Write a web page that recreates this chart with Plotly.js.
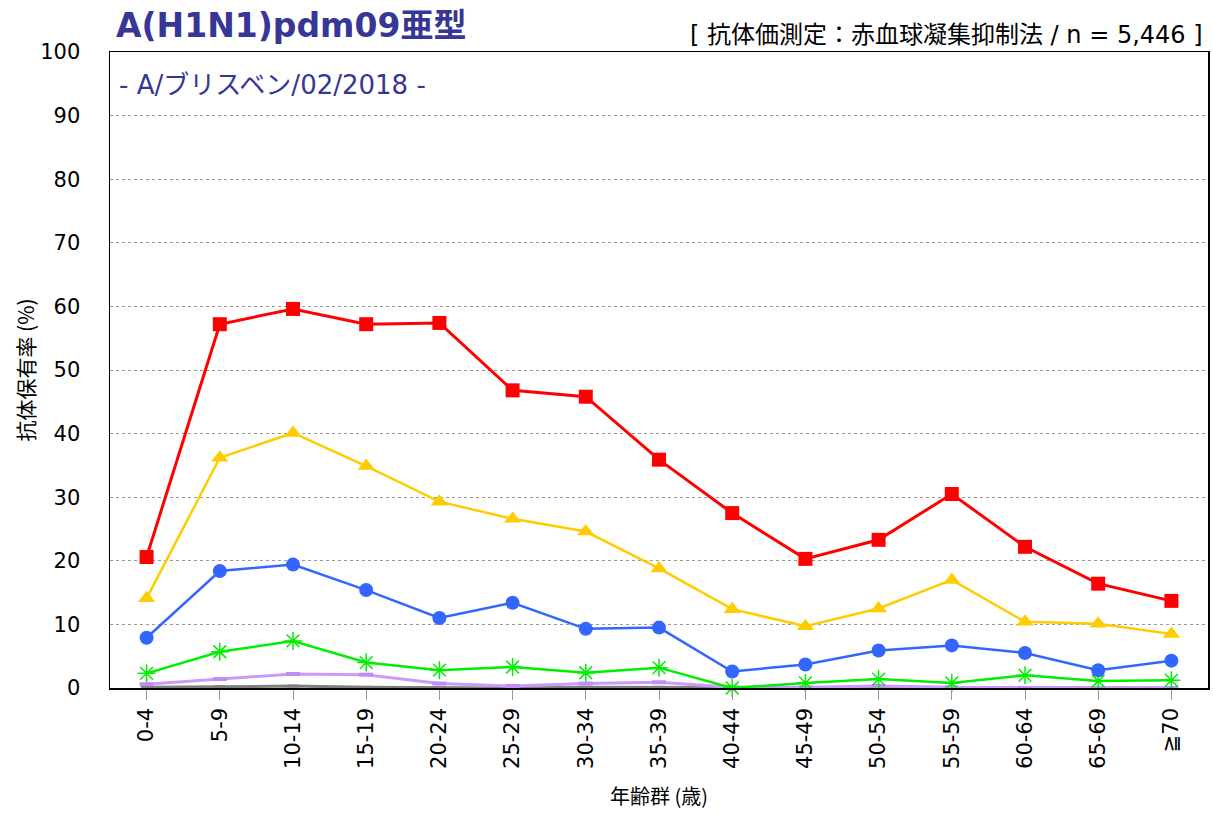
<!DOCTYPE html>
<html>
<head>
<meta charset="utf-8">
<script src="https://cdn.plot.ly/plotly-3.0.1.min.js"></script>
<style>html,body{margin:0;padding:0;background:#fff;}#chart{width:1213px;height:814px;}</style>
</head>
<body>
<div id="chart"></div>
<script>
const ageGroups = ["0-4","5-9","10-14","15-19","20-24","25-29","30-34","35-39","40-44","45-49","50-54","55-59","60-64","65-69","≧70"];
const seriesRed    = [20.6,57.2,59.6,57.2,57.4,46.8,45.8,35.9,27.5,20.3,23.3,30.5,22.2,16.4,13.7];
const seriesYellow = [14.1,36.2,40.1,34.9,29.3,26.6,24.6,18.8,12.4,9.7,12.5,17.0,10.4,10.1,8.5];
const seriesBlue   = [7.9,18.4,19.4,15.4,11.0,13.4,9.3,9.5,2.6,3.7,5.9,6.7,5.5,2.8,4.3];
const seriesGreen  = [2.3,5.7,7.4,4.0,2.8,3.3,2.4,3.2,0.0,0.8,1.4,0.8,2.0,1.1,1.2];
const seriesPurple = [0.6,1.4,2.2,2.1,0.7,0.3,0.7,0.9,0.1,0.1,0.3,0.1,0.0,0.0,0.0];
const seriesGrey   = [0.1,0.2,0.3,0.1,0.0,0.0,0.1,0.1,0.0,0.0,0.0,0.0,0.0,0.0,0.0];
const yTicks = [0,10,20,30,40,50,60,70,80,90,100];

const mk = (y, color, lw, sym, size, extra) => Object.assign({
  x: ageGroups, y: y, type: 'scatter', mode: 'lines+markers', cliponaxis: false,
  line: {color: color, width: lw},
  marker: {symbol: sym, size: size, color: color}
}, extra || {});

const data = [
  mk(seriesGrey, '#7f7f7f', 3, 'line-ew', 8, {marker:{symbol:'line-ew', size:8, line:{color:'#7f7f7f', width:3}}}),
  mk(seriesPurple, '#cc99ff', 3, 'line-ew', 10, {marker:{symbol:'line-ew', size:10, line:{color:'#c08cf5', width:4}}}),
  mk(seriesGreen, '#00ee00', 2.5, 'asterisk-open', 15, {marker:{symbol:'asterisk-open', size:15, line:{color:'#00ee00', width:1.5}}}),
  mk(seriesBlue, '#3366ff', 2.5, 'circle', 14),
  mk(seriesYellow, '#ffcc00', 2.5, 'triangle-up', 15),
  mk(seriesRed, '#ff0000', 3, 'square', 14)
];

const font = '"DejaVu Sans", "Noto Sans CJK JP", sans-serif';
const cjk = '"DejaVu Sans", "Noto Sans CJK JP", sans-serif';
const layout = {
  width: 1213, height: 814,
  margin: {l: 110, r: 5, t: 52, b: 126},
  paper_bgcolor: '#fff', plot_bgcolor: '#fff',
  showlegend: false,
  font: {family: font, color: '#000'},
  xaxis: {
    type: 'category', range: [-0.5, 14.5],
    showline: true, linecolor: '#000', linewidth: 1.5, mirror: true,
    showgrid: false, zeroline: false,
    ticks: 'outside', ticklen: 10, tickcolor: '#999', tickwidth: 1,
    tickangle: -90, tickfont: {size: 21, family: font, color: '#000'},
    title: {text: '年齢群 (歳)', font: {size: 20, family: '"Noto Sans CJK JP", sans-serif'}, standoff: 22}
  },
  yaxis: {
    range: [0, 100], tickvals: yTicks, ticktext: yTicks.map(String),
    showline: true, linecolor: '#000', linewidth: 1.5, mirror: true,
    showgrid: true, gridcolor: '#999', griddash: 'dot', gridwidth: 1,
    zeroline: false, ticks: '', ticklabelstandoff: 24,
    tickfont: {size: 21, family: font, color: '#000'},
    title: {text: '抗体保有率 (%)', font: {size: 21, family: '"Noto Sans CJK JP", sans-serif'}, standoff: 0}
  },
  annotations: [
    {xref: 'paper', yref: 'paper', x: 0.004, y: 1.042, xanchor: 'left', yanchor: 'middle', showarrow: false,
     text: '<b>A(H1N1)pdm09亜型</b>', font: {size: 33, color: '#363696', family: cjk}},
    {xref: 'paper', yref: 'paper', x: 0.997, y: 1.027, xanchor: 'right', yanchor: 'middle', showarrow: false,
     text: '[ 抗体価測定：赤血球凝集抑制法 / n = 5,446 ]', font: {size: 24, color: '#000', family: cjk}},
    {xref: 'paper', yref: 'paper', x: 0.006, y: 0.948, xanchor: 'left', yanchor: 'middle', showarrow: false,
     text: '- A/ブリスベン/02/2018 -', font: {size: 26, color: '#363696', family: cjk}}
  ]
};

Plotly.newPlot('chart', data, layout, {displayModeBar: false, staticPlot: true});
</script>
</body>
</html>
